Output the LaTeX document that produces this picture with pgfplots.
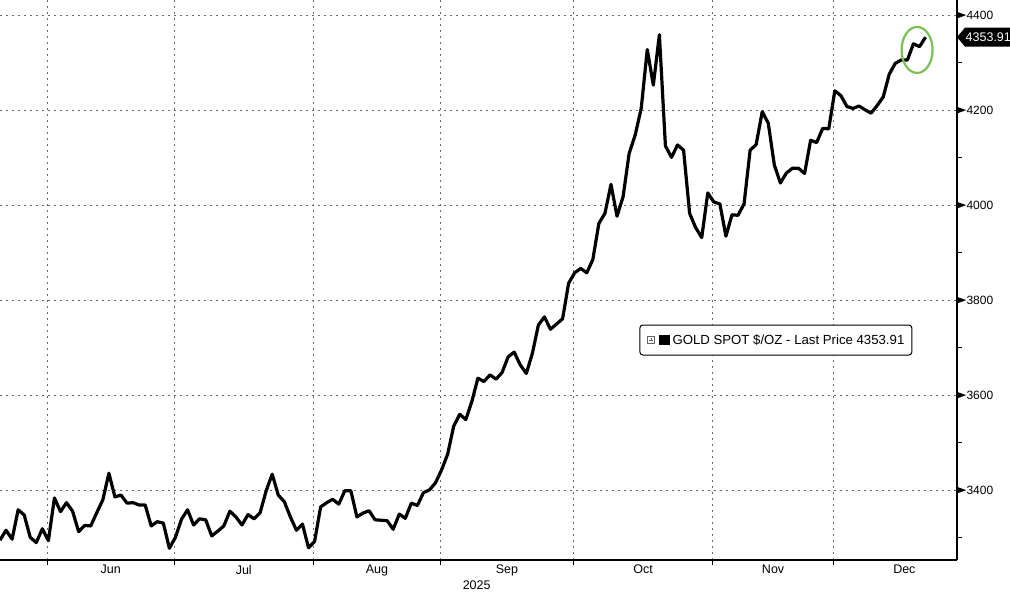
\documentclass[border=0pt]{standalone}
\usepackage{fontspec}
\setmainfont{Liberation Sans}
\usepackage{pgfplots}
\usepackage{pgfplotstable}
\pgfplotsset{compat=1.18}
\definecolor{gridgray}{RGB}{105,105,105}
\definecolor{circgreen}{RGB}{122,192,84}

\pgfplotstableread{
x y
0 3295
1 3316
2 3297
3 3359
4 3348
5 3301
6 3290
7 3319
8 3294
9 3384
10 3355
11 3374
12 3356
13 3313
14 3326
15 3325
16 3353
17 3380
18 3436
19 3386
20 3390
21 3373
22 3374
23 3369
24 3369
25 3325
26 3334
27 3331
28 3278
29 3301
30 3339
31 3359
32 3327
33 3340
34 3338
35 3304
36 3314
37 3325
38 3356
39 3344
40 3327
41 3349
42 3340
43 3353
44 3399
45 3434
46 3390
47 3376
48 3344
49 3316
50 3329
51 3279
52 3292
53 3365
54 3374
55 3381
56 3371
57 3399
58 3399
59 3344
60 3352
61 3357
62 3338
63 3337
64 3336
65 3318
66 3350
67 3341
68 3373
69 3368
70 3395
71 3401
72 3416
73 3443
74 3476
75 3535
76 3560
77 3549
78 3587
79 3636
80 3629
81 3643
82 3634
83 3648
84 3681
85 3691
86 3664
87 3646
88 3688
89 3748
90 3765
91 3739
92 3750
93 3761
94 3836
95 3858
96 3867
97 3858
98 3886
99 3962
100 3983
101 4044
102 3977
103 4018
104 4109
105 4148
106 4204
107 4328
108 4253
109 4359
110 4125
111 4101
112 4127
113 4116
114 3983
115 3953
116 3932
117 4026
118 4007
119 4003
120 3935
121 3980
122 3979
123 4003
124 4116
125 4128
126 4197
127 4173
128 4085
129 4047
130 4068
131 4078
132 4078
133 4067
134 4137
135 4132
136 4162
137 4161
138 4241
139 4231
140 4208
141 4204
142 4209
143 4201
144 4194
145 4210
146 4228
147 4276
148 4299
149 4306
150 4306
151 4340
152 4334
153 4353.91
}\gold

\begin{document}
\begin{tikzpicture}
\useasboundingbox (0,0) rectangle (1010pt,595pt);
\begin{axis}[
  at={(0pt,35pt)}, anchor=south west,
  scale only axis, width=957pt, height=560pt,
  xmin=0, xmax=158.2, ymin=3253.3, ymax=4432.2,
  axis x line*=bottom, axis y line*=right,
  axis line style={-, line width=1.3pt, black},
  xtick={18.3,40.3,62.3,83.8,106.3,127.8,149.5},
  xticklabels={Jun,Jul,Aug,Sep,Oct,Nov,Dec},
  minor xtick={7.8,28.8,51.8,72.8,94.8,117.8,137.8},
  ytick={3400,3600,3800,4000,4200,4400},
  minor ytick={3300,3500,3700,3900,4100,4300},
  xtick pos=bottom, xticklabel pos=bottom,
  ytick pos=right, yticklabel pos=right,
  major tick length=0pt, minor tick length=5pt,
  tick align=outside,
  tick style={black, line width=1pt},
  xminorgrids=true, ymajorgrids=true,
  xmajorgrids=false, yminorgrids=false,
  major grid style={gridgray, line width=0.8pt, dash pattern=on 2pt off 4pt},
  minor grid style={gridgray, line width=0.8pt, dash pattern=on 2pt off 4pt},
  xticklabel style={font=\fontsize{12.5}{14}\selectfont, inner sep=0pt, yshift=-5pt},
  yticklabel style={anchor=west, inner sep=0pt, font=\fontsize{12}{14}\selectfont},
  yticklabel={\tikz[baseline=-4.3pt]{\fill[black, sharp corners] (0,-3.2pt)--(9pt,0)--(0,3.2pt)--cycle;}\hspace{0.3pt}\pgfmathprintnumber{\tick}},
  /pgf/number format/1000 sep={},
  /pgf/number format/assume math mode=true,
  clip mode=individual,
]
\addplot[black, line width=3.2pt, line join=round] table[x=x,y=y] {\gold};
\coordinate (lastpt) at (axis cs:158.2,4353.91);
\coordinate (legc) at (axis cs:128.26,3716.4);
\coordinate (ellc) at (axis cs:151.6,4327);
\coordinate (yr) at (axis cs:78.8,3253.3);
\end{axis}
\draw[circgreen, line width=2.2pt] (ellc) ellipse [x radius=15.5pt, y radius=23pt];
\fill[black] (lastpt) -- ++(8pt,9.5pt) -- ++(60pt,0) -- ++(0,-19pt) -- ++(-60pt,0) -- cycle;
\node[anchor=west, text=white, font=\fontsize{12.5}{14}\selectfont, inner sep=0pt] at ([xshift=8.5pt]lastpt) {4353.91};
\node[draw=black, rounded corners=3pt, line width=1pt, minimum width=272pt, minimum height=30pt, fill=white, inner sep=0pt, font=\fontsize{13.2}{15}\selectfont] at (legc) {\tikz[baseline=-4.7pt, sharp corners]{\draw[gray!80!black, line width=0.7pt, sharp corners] (0,-3.2pt) rectangle (6.4pt,3.2pt); \draw[gray!80!black, line width=0.7pt] (1.6pt,0)--(4.8pt,0) (3.2pt,-1.6pt)--(3.2pt,1.6pt);}\hspace{4pt}\rule{11pt}{10pt}\hspace{3pt}GOLD SPOT \$/OZ - Last Price 4353.91};
\node[anchor=north, font=\fontsize{12.5}{14}\selectfont, inner sep=0pt] at ([yshift=-20.5pt]yr) {2025};
\end{tikzpicture}
\end{document}
